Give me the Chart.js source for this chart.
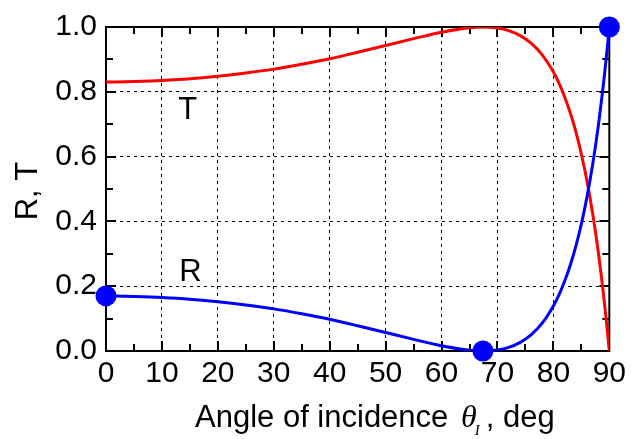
<!DOCTYPE html>
<html>
<head>
<meta charset="utf-8">
<script src="https://cdn.jsdelivr.net/npm/chart.js@4/dist/chart.umd.min.js"></script>
<style>
html,body{margin:0;padding:0;background:#fff;}
canvas{display:block;}
</style>
</head>
<body>
<canvas id="c" width="631" height="439"></canvas>
<script>
// Angle of incidence (deg)
const angles = [0,5,10,15,20,25,30,35,40,45,50,55,60,65,67.4,70,72,74,76,78,80,81,82,83,84,85,86,87,88,89,89.5,90];
// Reflectance R
const rValues = [0.170,0.168,0.165,0.160,0.152,0.142,0.130,0.115,0.098,0.078,0.057,0.036,0.016,0.002,0.000,0.003,0.011,0.026,0.050,0.086,0.139,0.173,0.215,0.264,0.322,0.392,0.475,0.573,0.691,0.832,0.912,1.000];
// Transmittance T
const tValues = [0.830,0.832,0.835,0.840,0.848,0.858,0.870,0.885,0.902,0.922,0.943,0.964,0.984,0.998,1.000,0.997,0.989,0.974,0.950,0.914,0.861,0.827,0.785,0.736,0.678,0.608,0.525,0.427,0.309,0.168,0.088,0.000];
// Highlighted points on R
const markerAngles = [0, 67.4, 90];
const markerValues = [0.170, 0.000, 1.000];
// Curve labels
const curveLabels = ['T', 'R'];
const curveLabelX = [14.6, 15.1];
const curveLabelY = [0.743, 0.242];
// Axis titles
const xTitleMain = 'Angle of incidence ';
const xTitleSym = 'θ';
const xTitleSub = 'I';
const xTitleEnd = ', deg';
const yTitle = 'R, T';

const FONT = "'Liberation Sans', Arial, Helvetica, sans-serif";
const SERIF = "'Liberation Serif', 'Times New Roman', serif";

const toXY = (xs, ys) => xs.map((x, i) => ({x: x, y: ys[i]}));

const framePlugin = {
  id: 'frame',
  beforeDatasetsDraw(chart) {
    const {ctx, chartArea: a, scales: {x, y}} = chart;
    ctx.save();
    ctx.strokeStyle = '#000';
    ctx.lineWidth = 2;
    ctx.beginPath();
    // ticks x
    for (let v = 0; v <= 90; v += 5) {
      const px = Math.round(x.getPixelForValue(v));
      const len = (v % 10 === 0) ? 10 : 7;
      ctx.moveTo(px, a.bottom); ctx.lineTo(px, a.bottom - len);
      ctx.moveTo(px, a.top); ctx.lineTo(px, a.top + len);
    }
    for (let k = 0; k <= 10; k++) {
      const py = Math.round(y.getPixelForValue(k / 10));
      const len = (k % 2 === 0) ? 10 : 7;
      ctx.moveTo(a.left, py); ctx.lineTo(a.left + len, py);
      ctx.moveTo(a.right, py); ctx.lineTo(a.right - len, py);
    }
    ctx.stroke();
    ctx.strokeRect(a.left, a.top, a.right - a.left, a.bottom - a.top);
    ctx.restore();
  },
  afterDraw(chart) {
    const {ctx, chartArea: a, scales: {x, y}} = chart;
    ctx.save();
    ctx.fillStyle = '#000';
    // curve labels
    ctx.font = '31px ' + FONT;
    ctx.textAlign = 'center';
    ctx.textBaseline = 'middle';
    curveLabels.forEach((t, i) => {
      ctx.fillText(t, x.getPixelForValue(curveLabelX[i]), y.getPixelForValue(curveLabelY[i]));
    });
    // y title
    ctx.save();
    ctx.translate(28, (a.top + a.bottom) / 2 + 2);
    ctx.rotate(-Math.PI / 2);
    ctx.font = '31px ' + FONT;
    ctx.textAlign = 'center';
    ctx.textBaseline = 'middle';
    ctx.fillText(yTitle, 0, 0);
    ctx.restore();
    // x title
    const base = a.bottom + 76;
    ctx.textAlign = 'left';
    ctx.textBaseline = 'alphabetic';
    let cx = a.left + 89;
    ctx.font = '31px ' + FONT;
    ctx.fillText(xTitleMain, cx, base);
    cx += ctx.measureText(xTitleMain).width + 4;
    ctx.font = 'italic 32px ' + SERIF;
    ctx.fillText(xTitleSym, cx, base);
    cx += ctx.measureText(xTitleSym).width;
    ctx.font = 'italic 15px ' + SERIF;
    ctx.fillText(xTitleSub, cx - 2, base + 8);
    cx += ctx.measureText(xTitleSub).width + 4;
    ctx.font = '31px ' + FONT;
    ctx.fillText(xTitleEnd, cx, base);
    ctx.restore();
  }
};

new Chart(document.getElementById('c'), {
  type: 'scatter',
  data: {
    datasets: [
      {
        label: 'markers',
        data: toXY(markerAngles, markerValues),
        showLine: false,
        pointRadius: 10.5,
        pointHoverRadius: 10.5,
        pointBackgroundColor: '#0000ff',
        pointBorderWidth: 0,
        borderColor: '#0000ff',
        clip: false,
        order: 1
      },
      {
        label: 'R',
        data: toXY(angles, rValues),
        showLine: true,
        borderColor: '#0000ff',
        borderWidth: 3,
        pointRadius: 0,
        cubicInterpolationMode: 'monotone',
        order: 2
      },
      {
        label: 'T',
        data: toXY(angles, tValues),
        showLine: true,
        borderColor: '#ff0000',
        borderWidth: 3,
        pointRadius: 0,
        cubicInterpolationMode: 'monotone',
        order: 3
      }
    ]
  },
  options: {
    responsive: false,
    animation: false,
    layout: {padding: {left: 0, right: 19, top: 24, bottom: 0}},
    plugins: {legend: {display: false}, tooltip: {enabled: false}},
    scales: {
      x: {
        type: 'linear', min: 0, max: 90,
        ticks: {stepSize: 10, autoSkip: false, maxRotation: 0, color: '#000', padding: 5,
                font: {family: FONT, size: 30}},
        grid: {color: '#000', lineWidth: 1, drawTicks: false},
        border: {display: false, dash: [3, 4]},
        afterFit(s) { s.height = 88; }
      },
      y: {
        type: 'linear', min: 0, max: 1,
        ticks: {stepSize: 0.2, color: '#000', padding: 9,
                font: {family: FONT, size: 30},
                callback: v => Number(v).toFixed(1)},
        grid: {color: '#000', lineWidth: 1, drawTicks: false},
        border: {display: false, dash: [3, 4]},
        afterFit(s) { s.width = 106; }
      }
    }
  },
  plugins: [framePlugin]
});
</script>
</body>
</html>
